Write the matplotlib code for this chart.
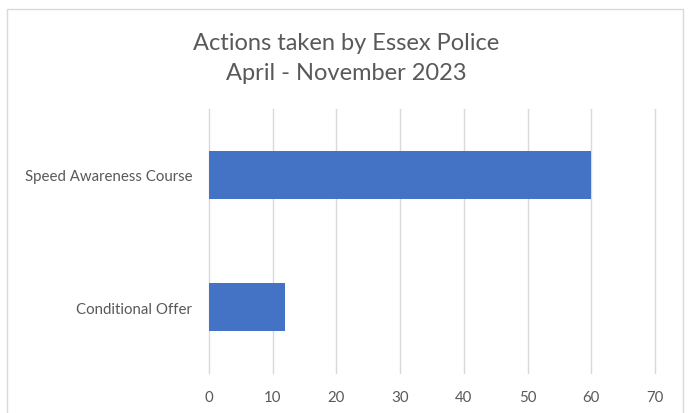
import matplotlib.pyplot as plt
from matplotlib.patches import Rectangle

categories = ["Conditional Offer", "Speed Awareness Course"]
values = [12, 60]
xticks = [0, 10, 20, 30, 40, 50, 60, 70]

plt.rcParams['font.family'] = ['Lato', 'DejaVu Sans']

fig = plt.figure(figsize=(6.92, 4.14), dpi=100)
ax = fig.add_axes([209 / 692, 1 - 374 / 414, (655 - 209) / 692, (374 - 110) / 414])

ax.barh(range(len(categories)), values, height=0.36, color='#4472c4', zorder=3)
ax.set_ylim(-0.5, len(categories) - 0.5)
ax.set_xlim(0, 70)
ax.set_xticks(xticks)
ax.set_yticks(range(len(categories)))
ax.set_yticklabels(categories)
ax.grid(axis='x', color='#d9d9d9', linewidth=1, zorder=0)
for gl in ax.get_xgridlines():
    gl.set_clip_on(False)
for s in ax.spines.values():
    s.set_visible(False)
ax.tick_params(length=0, colors='#595959', labelsize=10.8)
ax.tick_params(axis='x', pad=12)
ax.tick_params(axis='y', pad=12)

fig.text(0.5, 1 - 43 / 414, "Actions taken by Essex Police", ha='center', va='center',
         fontsize=17, color='#595959')
fig.text(0.5, 1 - 73 / 414, "April - November 2023", ha='center', va='center',
         fontsize=17, color='#595959')

# chart frame
fig.add_artist(Rectangle((7 / 692, -0.05), (683 - 7) / 692, 1.05 - 10 / 414,
                         transform=fig.transFigure, fill=False,
                         edgecolor='#d9d9d9', linewidth=1))

fig.savefig('out.png', dpi=100)
